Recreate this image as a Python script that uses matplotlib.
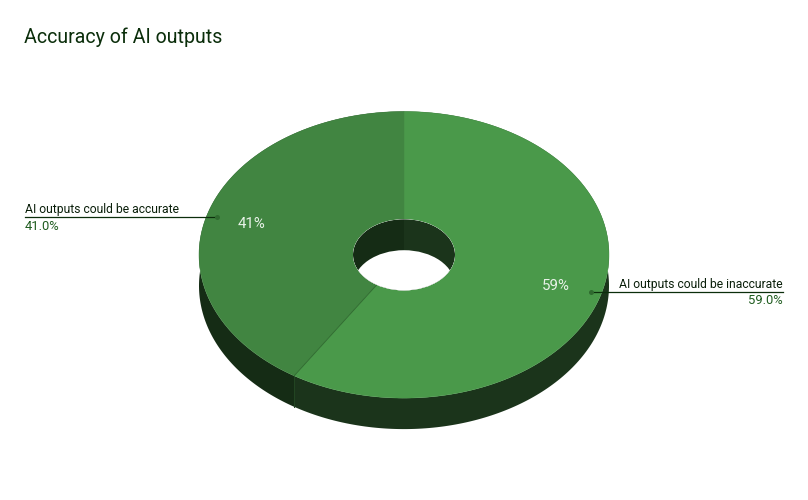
import numpy as np
import matplotlib
matplotlib.use('Agg')
import matplotlib.pyplot as plt
from matplotlib.patches import Ellipse, Polygon

plt.rcParams['font.family'] = ['Roboto', 'DejaVu Sans']

# data
categories = ['AI outputs could be inaccurate', 'AI outputs could be accurate']
values = [59.0, 41.0]
slice_labels = ['59%', '41%']
value_labels = ['59.0%', '41.0%']
top_colors = ['#4a994a', '#418541']
wall_colors = ['#1b341b', '#152c15']

# geometry in pixels
cx, cy = 404, 254.8
rx, ry = 205, 143.3
hole_rx, hole_ry = 51, 35.6
depth = 31


def ring_point(rad_x, rad_y, deg, dy=0):
    t = np.radians(deg)
    return cx + rad_x * np.sin(t), cy - rad_y * np.cos(t) + dy


fig = plt.figure(figsize=(8.08, 5), dpi=100)
ax = fig.add_axes([0, 0, 1, 1])
ax.set_xlim(0, 808)
ax.set_ylim(500, 0)
ax.axis('off')

fractions = np.cumsum([0] + values) / sum(values) * 360

# outer wall
for i in range(len(values)):
    a = np.linspace(fractions[i], fractions[i + 1], 200)
    x, y = ring_point(rx, ry, a)
    x2, y2 = ring_point(rx, ry, a[::-1], depth)
    ax.add_patch(Polygon(np.c_[np.r_[x, x2], np.r_[y, y2]], fc=wall_colors[i], ec='none', zorder=1))
# seam on the wall
sx, sy = ring_point(rx, ry, fractions[1])
ax.plot([sx, sx], [sy, sy + depth], color='#224522', lw=0.7, zorder=1.5)

# top faces
for i in range(len(values)):
    a = np.linspace(fractions[i], fractions[i + 1], 200)
    x, y = ring_point(rx, ry, a)
    x2, y2 = ring_point(hole_rx, hole_ry, a[::-1])
    ax.add_patch(Polygon(np.c_[np.r_[x, x2], np.r_[y, y2]], fc=top_colors[i], ec=top_colors[i], lw=0.3, zorder=2))
x1, y1 = ring_point(hole_rx, hole_ry, fractions[1])
ax.plot([x1, sx], [y1, sy], color='#2f6a2f', lw=0.6, zorder=2.5)

# hole: inner wall then the white part seen through it
hole = Ellipse((cx, cy), hole_rx * 2, hole_ry * 2, fc='white', ec='none', zorder=3)
ax.add_patch(hole)
for i in range(len(values)):
    a = np.linspace(fractions[i], fractions[i + 1], 200)
    x, y = ring_point(hole_rx, hole_ry, a)
    verts = np.c_[np.r_[x, cx], np.r_[y, cy]]
    wedge = Polygon(verts, fc=wall_colors[i], ec='none', zorder=3.1)
    ax.add_patch(wedge)
    wedge.set_clip_path(hole)
see_through = Ellipse((cx, cy + depth), hole_rx * 2, hole_ry * 2, fc='white', ec='none', zorder=3.2)
ax.add_patch(see_through)
see_through.set_clip_path(hole)

# title
ax.text(24, 37.5, 'Accuracy of AI outputs', fontsize=14.1, color='#0b2e0b', va='center', ha='left')

# slice labels
ax.text(556, 286, slice_labels[0], fontsize=10.8, color='#e8f2e8', ha='center', va='center', zorder=5)
ax.text(252, 224.5, slice_labels[1], fontsize=10.8, color='#e8f2e8', ha='center', va='center', zorder=5)

# leaders
ax.plot([591, 783], [292, 292], color='#0b2e0b', lw=0.9, zorder=5)
ax.plot([591], [292], 'o', ms=3.6, color='#2f6a2f', mec='none', zorder=6)
ax.text(783, 284.5, categories[0], fontsize=8.7, color='#0a1f0a', ha='right', va='center', zorder=5)
ax.text(783, 301, value_labels[0], fontsize=9.4, color='#1f5c1f', ha='right', va='center', zorder=5)

ax.plot([25, 217], [217, 217], color='#0b2e0b', lw=0.9, zorder=5)
ax.plot([217], [217], 'o', ms=3.6, color='#2f6a2f', mec='none', zorder=6)
ax.text(25, 209, categories[1], fontsize=8.7, color='#0a1f0a', ha='left', va='center', zorder=5)
ax.text(25, 226, value_labels[1], fontsize=9.4, color='#1f5c1f', ha='left', va='center', zorder=5)

plt.savefig('out.png', dpi=100)
